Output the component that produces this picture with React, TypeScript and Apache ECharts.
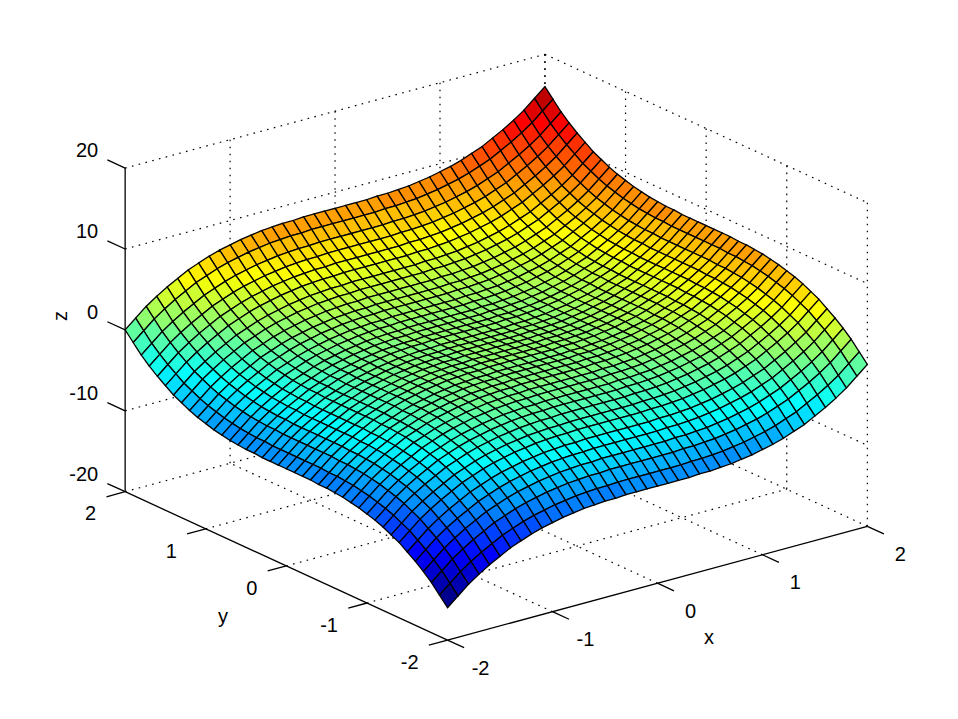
import React, { useEffect, useRef } from "react";
import * as echarts from "echarts";

const xTicks = [-2, -1, 0, 1, 2];
const yTicks = [-2, -1, 0, 1, 2];
const zTicks = [-20, -10, 0, 10, 20];
const gridX = [-2,-1.9,-1.8,-1.7,-1.6,-1.5,-1.4,-1.3,-1.2,-1.1,-1,-0.9,-0.8,-0.7,-0.6,-0.5,-0.4,-0.3,-0.2,-0.1,0,0.1,0.2,0.3,0.4,0.5,0.6,0.7,0.8,0.9,1,1.1,1.2,1.3,1.4,1.5,1.6,1.7,1.8,1.9,2];
const gridY = gridX.slice();
// z: one row per x, one column per y
const zRows = [
[-16,-14.9,-13.8,-12.9,-12.1,-11.4,-10.7,-10.2,-9.7,-9.3,-9,-8.7,-8.5,-8.3,-8.2,-8.1,-8.1,-8,-8,-8,-8,-8,-8,-8,-7.9,-7.9,-7.8,-7.7,-7.5,-7.3,-7,-6.7,-6.3,-5.8,-5.3,-4.6,-3.9,-3.1,-2.2,-1.1,0],
[-14.9,-13.8,-12.7,-11.8,-11,-10.3,-9.6,-9.1,-8.6,-8.2,-7.9,-7.6,-7.4,-7.2,-7.1,-7,-7,-6.9,-6.9,-6.9,-6.9,-6.9,-6.9,-6.9,-6.8,-6.8,-6.7,-6.6,-6.4,-6.2,-5.9,-5.6,-5.2,-4.7,-4.2,-3.5,-2.8,-2,-1.1,0,1.1],
[-13.8,-12.7,-11.6,-10.7,-9.9,-9.2,-8.5,-8,-7.5,-7.1,-6.8,-6.5,-6.3,-6.1,-6,-5.9,-5.9,-5.8,-5.8,-5.8,-5.8,-5.8,-5.8,-5.8,-5.7,-5.7,-5.6,-5.5,-5.3,-5.1,-4.8,-4.5,-4.1,-3.6,-3.1,-2.4,-1.7,-0.9,0,1.1,2.2],
[-12.9,-11.8,-10.7,-9.8,-9,-8.3,-7.6,-7.1,-6.6,-6.2,-5.9,-5.6,-5.4,-5.2,-5.1,-5,-5,-4.9,-4.9,-4.9,-4.9,-4.9,-4.9,-4.9,-4.8,-4.8,-4.7,-4.6,-4.4,-4.2,-3.9,-3.6,-3.2,-2.7,-2.2,-1.5,-0.8,0,0.9,2,3.1],
[-12.1,-11,-9.9,-9,-8.2,-7.5,-6.8,-6.3,-5.8,-5.4,-5.1,-4.8,-4.6,-4.4,-4.3,-4.2,-4.2,-4.1,-4.1,-4.1,-4.1,-4.1,-4.1,-4.1,-4,-4,-3.9,-3.8,-3.6,-3.4,-3.1,-2.8,-2.4,-1.9,-1.4,-0.7,0,0.8,1.7,2.8,3.9],
[-11.4,-10.3,-9.2,-8.3,-7.5,-6.8,-6.1,-5.6,-5.1,-4.7,-4.4,-4.1,-3.9,-3.7,-3.6,-3.5,-3.5,-3.4,-3.4,-3.4,-3.4,-3.4,-3.4,-3.4,-3.3,-3.3,-3.2,-3.1,-2.9,-2.7,-2.4,-2.1,-1.7,-1.2,-0.7,0,0.7,1.5,2.4,3.5,4.6],
[-10.7,-9.6,-8.5,-7.6,-6.8,-6.1,-5.4,-4.9,-4.4,-4,-3.7,-3.4,-3.2,-3,-2.9,-2.8,-2.8,-2.7,-2.7,-2.7,-2.7,-2.7,-2.7,-2.7,-2.6,-2.6,-2.5,-2.4,-2.2,-2,-1.7,-1.4,-1,-0.5,0,0.7,1.4,2.2,3.1,4.2,5.3],
[-10.2,-9.1,-8,-7.1,-6.3,-5.6,-4.9,-4.4,-3.9,-3.5,-3.2,-2.9,-2.7,-2.5,-2.4,-2.3,-2.3,-2.2,-2.2,-2.2,-2.2,-2.2,-2.2,-2.2,-2.1,-2.1,-2,-1.9,-1.7,-1.5,-1.2,-0.9,-0.5,0,0.5,1.2,1.9,2.7,3.6,4.7,5.8],
[-9.7,-8.6,-7.5,-6.6,-5.8,-5.1,-4.4,-3.9,-3.4,-3,-2.7,-2.4,-2.2,-2,-1.9,-1.8,-1.8,-1.7,-1.7,-1.7,-1.7,-1.7,-1.7,-1.7,-1.6,-1.6,-1.5,-1.4,-1.2,-1,-0.7,-0.4,0,0.5,1,1.7,2.4,3.2,4.1,5.2,6.3],
[-9.3,-8.2,-7.1,-6.2,-5.4,-4.7,-4,-3.5,-3,-2.6,-2.3,-2,-1.8,-1.6,-1.5,-1.4,-1.4,-1.3,-1.3,-1.3,-1.3,-1.3,-1.3,-1.3,-1.2,-1.2,-1.1,-1,-0.8,-0.6,-0.3,0,0.4,0.9,1.4,2.1,2.8,3.6,4.5,5.6,6.7],
[-9,-7.9,-6.8,-5.9,-5.1,-4.4,-3.7,-3.2,-2.7,-2.3,-2,-1.7,-1.5,-1.3,-1.2,-1.1,-1.1,-1,-1,-1,-1,-1,-1,-1,-0.9,-0.9,-0.8,-0.7,-0.5,-0.3,0,0.3,0.7,1.2,1.7,2.4,3.1,3.9,4.8,5.9,7],
[-8.7,-7.6,-6.5,-5.6,-4.8,-4.1,-3.4,-2.9,-2.4,-2,-1.7,-1.4,-1.2,-1,-0.9,-0.8,-0.8,-0.7,-0.7,-0.7,-0.7,-0.7,-0.7,-0.7,-0.6,-0.6,-0.5,-0.4,-0.2,0,0.3,0.6,1,1.5,2,2.7,3.4,4.2,5.1,6.2,7.3],
[-8.5,-7.4,-6.3,-5.4,-4.6,-3.9,-3.2,-2.7,-2.2,-1.8,-1.5,-1.2,-1,-0.8,-0.7,-0.6,-0.6,-0.5,-0.5,-0.5,-0.5,-0.5,-0.5,-0.5,-0.4,-0.4,-0.3,-0.2,0,0.2,0.5,0.8,1.2,1.7,2.2,2.9,3.6,4.4,5.3,6.4,7.5],
[-8.3,-7.2,-6.1,-5.2,-4.4,-3.7,-3,-2.5,-2,-1.6,-1.3,-1,-0.8,-0.6,-0.5,-0.4,-0.4,-0.3,-0.3,-0.3,-0.3,-0.3,-0.3,-0.3,-0.2,-0.2,-0.1,0,0.2,0.4,0.7,1,1.4,1.9,2.4,3.1,3.8,4.6,5.5,6.6,7.7],
[-8.2,-7.1,-6,-5.1,-4.3,-3.6,-2.9,-2.4,-1.9,-1.5,-1.2,-0.9,-0.7,-0.5,-0.4,-0.3,-0.3,-0.2,-0.2,-0.2,-0.2,-0.2,-0.2,-0.2,-0.1,-0.1,0,0.1,0.3,0.5,0.8,1.1,1.5,2,2.5,3.2,3.9,4.7,5.6,6.7,7.8],
[-8.1,-7,-5.9,-5,-4.2,-3.5,-2.8,-2.3,-1.8,-1.4,-1.1,-0.8,-0.6,-0.4,-0.3,-0.2,-0.2,-0.1,-0.1,-0.1,-0.1,-0.1,-0.1,-0.1,0,0,0.1,0.2,0.4,0.6,0.9,1.2,1.6,2.1,2.6,3.3,4,4.8,5.7,6.8,7.9],
[-8.1,-7,-5.9,-5,-4.2,-3.5,-2.8,-2.3,-1.8,-1.4,-1.1,-0.8,-0.6,-0.4,-0.3,-0.2,-0.2,-0.1,-0.1,-0.1,-0.1,-0.1,-0.1,-0.1,0,0,0.1,0.2,0.4,0.6,0.9,1.2,1.6,2.1,2.6,3.3,4,4.8,5.7,6.8,7.9],
[-8,-6.9,-5.8,-4.9,-4.1,-3.4,-2.7,-2.2,-1.7,-1.3,-1,-0.7,-0.5,-0.3,-0.2,-0.1,-0.1,0,0,0,0,0,0,0,0.1,0.1,0.2,0.3,0.5,0.7,1,1.3,1.7,2.2,2.7,3.4,4.1,4.9,5.8,6.9,8],
[-8,-6.9,-5.8,-4.9,-4.1,-3.4,-2.7,-2.2,-1.7,-1.3,-1,-0.7,-0.5,-0.3,-0.2,-0.1,-0.1,0,0,0,0,0,0,0,0.1,0.1,0.2,0.3,0.5,0.7,1,1.3,1.7,2.2,2.7,3.4,4.1,4.9,5.8,6.9,8],
[-8,-6.9,-5.8,-4.9,-4.1,-3.4,-2.7,-2.2,-1.7,-1.3,-1,-0.7,-0.5,-0.3,-0.2,-0.1,-0.1,0,0,0,0,0,0,0,0.1,0.1,0.2,0.3,0.5,0.7,1,1.3,1.7,2.2,2.7,3.4,4.1,4.9,5.8,6.9,8],
[-8,-6.9,-5.8,-4.9,-4.1,-3.4,-2.7,-2.2,-1.7,-1.3,-1,-0.7,-0.5,-0.3,-0.2,-0.1,-0.1,0,0,0,0,0,0,0,0.1,0.1,0.2,0.3,0.5,0.7,1,1.3,1.7,2.2,2.7,3.4,4.1,4.9,5.8,6.9,8],
[-8,-6.9,-5.8,-4.9,-4.1,-3.4,-2.7,-2.2,-1.7,-1.3,-1,-0.7,-0.5,-0.3,-0.2,-0.1,-0.1,0,0,0,0,0,0,0,0.1,0.1,0.2,0.3,0.5,0.7,1,1.3,1.7,2.2,2.7,3.4,4.1,4.9,5.8,6.9,8],
[-8,-6.9,-5.8,-4.9,-4.1,-3.4,-2.7,-2.2,-1.7,-1.3,-1,-0.7,-0.5,-0.3,-0.2,-0.1,-0.1,0,0,0,0,0,0,0,0.1,0.1,0.2,0.3,0.5,0.7,1,1.3,1.7,2.2,2.7,3.4,4.1,4.9,5.8,6.9,8],
[-8,-6.9,-5.8,-4.9,-4.1,-3.4,-2.7,-2.2,-1.7,-1.3,-1,-0.7,-0.5,-0.3,-0.2,-0.1,-0.1,0,0,0,0,0,0,0,0.1,0.1,0.2,0.3,0.5,0.7,1,1.3,1.7,2.2,2.7,3.4,4.1,4.9,5.8,6.9,8],
[-7.9,-6.8,-5.7,-4.8,-4,-3.3,-2.6,-2.1,-1.6,-1.2,-0.9,-0.6,-0.4,-0.2,-0.1,0,0,0.1,0.1,0.1,0.1,0.1,0.1,0.1,0.2,0.2,0.3,0.4,0.6,0.8,1.1,1.4,1.8,2.3,2.8,3.5,4.2,5,5.9,7,8.1],
[-7.9,-6.8,-5.7,-4.8,-4,-3.3,-2.6,-2.1,-1.6,-1.2,-0.9,-0.6,-0.4,-0.2,-0.1,0,0,0.1,0.1,0.1,0.1,0.1,0.1,0.1,0.2,0.2,0.3,0.4,0.6,0.8,1.1,1.4,1.8,2.3,2.8,3.5,4.2,5,5.9,7,8.1],
[-7.8,-6.7,-5.6,-4.7,-3.9,-3.2,-2.5,-2,-1.5,-1.1,-0.8,-0.5,-0.3,-0.1,0,0.1,0.1,0.2,0.2,0.2,0.2,0.2,0.2,0.2,0.3,0.3,0.4,0.5,0.7,0.9,1.2,1.5,1.9,2.4,2.9,3.6,4.3,5.1,6,7.1,8.2],
[-7.7,-6.6,-5.5,-4.6,-3.8,-3.1,-2.4,-1.9,-1.4,-1,-0.7,-0.4,-0.2,0,0.1,0.2,0.2,0.3,0.3,0.3,0.3,0.3,0.3,0.3,0.4,0.4,0.5,0.6,0.8,1,1.3,1.6,2,2.5,3,3.7,4.4,5.2,6.1,7.2,8.3],
[-7.5,-6.4,-5.3,-4.4,-3.6,-2.9,-2.2,-1.7,-1.2,-0.8,-0.5,-0.2,0,0.2,0.3,0.4,0.4,0.5,0.5,0.5,0.5,0.5,0.5,0.5,0.6,0.6,0.7,0.8,1,1.2,1.5,1.8,2.2,2.7,3.2,3.9,4.6,5.4,6.3,7.4,8.5],
[-7.3,-6.2,-5.1,-4.2,-3.4,-2.7,-2,-1.5,-1,-0.6,-0.3,0,0.2,0.4,0.5,0.6,0.6,0.7,0.7,0.7,0.7,0.7,0.7,0.7,0.8,0.8,0.9,1,1.2,1.4,1.7,2,2.4,2.9,3.4,4.1,4.8,5.6,6.5,7.6,8.7],
[-7,-5.9,-4.8,-3.9,-3.1,-2.4,-1.7,-1.2,-0.7,-0.3,0,0.3,0.5,0.7,0.8,0.9,0.9,1,1,1,1,1,1,1,1.1,1.1,1.2,1.3,1.5,1.7,2,2.3,2.7,3.2,3.7,4.4,5.1,5.9,6.8,7.9,9],
[-6.7,-5.6,-4.5,-3.6,-2.8,-2.1,-1.4,-0.9,-0.4,0,0.3,0.6,0.8,1,1.1,1.2,1.2,1.3,1.3,1.3,1.3,1.3,1.3,1.3,1.4,1.4,1.5,1.6,1.8,2,2.3,2.6,3,3.5,4,4.7,5.4,6.2,7.1,8.2,9.3],
[-6.3,-5.2,-4.1,-3.2,-2.4,-1.7,-1,-0.5,0,0.4,0.7,1,1.2,1.4,1.5,1.6,1.6,1.7,1.7,1.7,1.7,1.7,1.7,1.7,1.8,1.8,1.9,2,2.2,2.4,2.7,3,3.4,3.9,4.4,5.1,5.8,6.6,7.5,8.6,9.7],
[-5.8,-4.7,-3.6,-2.7,-1.9,-1.2,-0.5,0,0.5,0.9,1.2,1.5,1.7,1.9,2,2.1,2.1,2.2,2.2,2.2,2.2,2.2,2.2,2.2,2.3,2.3,2.4,2.5,2.7,2.9,3.2,3.5,3.9,4.4,4.9,5.6,6.3,7.1,8,9.1,10.2],
[-5.3,-4.2,-3.1,-2.2,-1.4,-0.7,0,0.5,1,1.4,1.7,2,2.2,2.4,2.5,2.6,2.6,2.7,2.7,2.7,2.7,2.7,2.7,2.7,2.8,2.8,2.9,3,3.2,3.4,3.7,4,4.4,4.9,5.4,6.1,6.8,7.6,8.5,9.6,10.7],
[-4.6,-3.5,-2.4,-1.5,-0.7,0,0.7,1.2,1.7,2.1,2.4,2.7,2.9,3.1,3.2,3.3,3.3,3.4,3.4,3.4,3.4,3.4,3.4,3.4,3.5,3.5,3.6,3.7,3.9,4.1,4.4,4.7,5.1,5.6,6.1,6.8,7.5,8.3,9.2,10.3,11.4],
[-3.9,-2.8,-1.7,-0.8,0,0.7,1.4,1.9,2.4,2.8,3.1,3.4,3.6,3.8,3.9,4,4,4.1,4.1,4.1,4.1,4.1,4.1,4.1,4.2,4.2,4.3,4.4,4.6,4.8,5.1,5.4,5.8,6.3,6.8,7.5,8.2,9,9.9,11,12.1],
[-3.1,-2,-0.9,0,0.8,1.5,2.2,2.7,3.2,3.6,3.9,4.2,4.4,4.6,4.7,4.8,4.8,4.9,4.9,4.9,4.9,4.9,4.9,4.9,5,5,5.1,5.2,5.4,5.6,5.9,6.2,6.6,7.1,7.6,8.3,9,9.8,10.7,11.8,12.9],
[-2.2,-1.1,0,0.9,1.7,2.4,3.1,3.6,4.1,4.5,4.8,5.1,5.3,5.5,5.6,5.7,5.7,5.8,5.8,5.8,5.8,5.8,5.8,5.8,5.9,5.9,6,6.1,6.3,6.5,6.8,7.1,7.5,8,8.5,9.2,9.9,10.7,11.6,12.7,13.8],
[-1.1,0,1.1,2,2.8,3.5,4.2,4.7,5.2,5.6,5.9,6.2,6.4,6.6,6.7,6.8,6.8,6.9,6.9,6.9,6.9,6.9,6.9,6.9,7,7,7.1,7.2,7.4,7.6,7.9,8.2,8.6,9.1,9.6,10.3,11,11.8,12.7,13.8,14.9],
[0,1.1,2.2,3.1,3.9,4.6,5.3,5.8,6.3,6.7,7,7.3,7.5,7.7,7.8,7.9,7.9,8,8,8,8,8,8,8,8.1,8.1,8.2,8.3,8.5,8.7,9,9.3,9.7,10.2,10.7,11.4,12.1,12.9,13.8,14.9,16],
];

const FONT = "Liberation Sans";
const TEXT_SIZE = 20;

// view of the box: picture position of (0,0,0) and of one data unit along each axis
const view = {
  ox: 496.25, oy: 347.2,
  xx: 104.95, xy: -28.45,
  yx: -80.6, yy: -37.1,
  zy: -8.09,
};
const project = (x: number, y: number, z: number): [number, number] => [
  view.ox + x * view.xx + y * view.yx,
  view.oy + x * view.xy + y * view.yy + z * view.zy,
];

const clamp01 = (v: number) => Math.max(0, Math.min(1, v));
const jet = (z: number, lo: number, hi: number) => {
  const n = Math.min(63, Math.floor(((z - lo) / (hi - lo)) * 64)) + 1;
  const v = n / 64;
  const ch = (a: number, b: number) => Math.round(255 * clamp01(Math.min(4 * v + a, -4 * v + b)));
  return `rgb(${ch(-1.5, 4.5)},${ch(-0.5, 3.5)},${ch(0.5, 2.5)})`;
};

type Seg = number[];
const xMin = xTicks[0], xMax = xTicks[xTicks.length - 1];
const yMin = yTicks[0], yMax = yTicks[yTicks.length - 1];
const zMin = zTicks[0], zMax = zTicks[zTicks.length - 1];

const dottedSegs: Seg[] = [];
xTicks.forEach((x) => {
  if (x !== xMin) dottedSegs.push([x, yMin, zMin, x, yMax, zMin]);
  if (x !== xMin) dottedSegs.push([x, yMax, zMin, x, yMax, zMax]);
});
yTicks.forEach((y) => {
  if (y !== yMin) dottedSegs.push([xMin, y, zMin, xMax, y, zMin]);
  dottedSegs.push([xMax, y, zMin, xMax, y, zMax]);
});
zTicks.forEach((z) => {
  if (z !== zMin) {
    dottedSegs.push([xMin, yMax, z, xMax, yMax, z]);
    dottedSegs.push([xMax, yMax, z, xMax, yMin, z]);
  }
});

const solidSegs: Seg[] = [
  [xMin, yMax, zMin, xMin, yMax, zMax],
  [xMin, yMax, zMin, xMin, yMin, zMin],
  [xMin, yMin, zMin, xMax, yMin, zMin],
];
const TICK_Z = 0.22, TICK_Y = 0.178, TICK_X = 0.205;
zTicks.forEach((z) => solidSegs.push([xMin, yMax, z, xMin, yMax + TICK_Z, z]));
yTicks.forEach((y) => solidSegs.push([xMin, y, zMin, xMin - TICK_Y, y, zMin]));
xTicks.forEach((x) => solidSegs.push([x, yMin, zMin, x, yMin - TICK_X, zMin]));

const flat = zRows.reduce((a, r) => a.concat(r), [] as number[]);
const zLo = Math.min(...flat);
const zHi = Math.max(...flat);

const cells: number[][] = [];
for (let i = 0; i < gridX.length - 1; i++) {
  for (let j = 0; j < gridY.length - 1; j++) cells.push([i, j]);
}
cells.sort((a, b) => b[0] + b[1] - (a[0] + a[1]));

const segmentSeries = (data: Seg[], style: any) => ({
  type: "custom",
  coordinateSystem: "cartesian2d",
  data,
  clip: false,
  silent: true,
  progressive: 0,
  renderItem: (_p: any, api: any) => {
    const a = api.coord(project(api.value(0), api.value(1), api.value(2)));
    const b = api.coord(project(api.value(3), api.value(4), api.value(5)));
    return {
      type: "line",
      silent: true,
      shape: { x1: a[0], y1: a[1], x2: b[0], y2: b[1] },
      style: { fill: null, stroke: "#000", ...style },
    };
  },
});

const labelSeries = (
  data: number[][],
  dx: number,
  dy: number,
  align: string,
  valueDim: number
) => ({
  type: "custom",
  coordinateSystem: "cartesian2d",
  data,
  clip: false,
  silent: true,
  progressive: 0,
  renderItem: (_p: any, api: any) => {
    const a = api.coord(project(api.value(0), api.value(1), api.value(2)));
    return {
      type: "text",
      silent: true,
      x: a[0] + dx,
      y: a[1] + dy,
      style: {
        text: String(api.value(valueDim)),
        fontFamily: FONT,
        fontSize: TEXT_SIZE,
        fill: "#000",
        align,
        verticalAlign: "middle",
      },
    };
  },
});

const axisTitle = (text: string, x: number, y: number, rotation = 0) => ({
  type: "text",
  x,
  y,
  rotation,
  silent: true,
  style: {
    text,
    fontFamily: FONT,
    fontSize: TEXT_SIZE,
    fill: "#000",
    align: "center",
    verticalAlign: "middle",
  },
});

export default function App() {
  const ref = useRef<HTMLDivElement>(null);
  useEffect(() => {
    document.body.style.margin = "0";
    const chart = echarts.init(ref.current!, undefined, { renderer: "svg" });
    chart.setOption({
      animation: false,
      backgroundColor: "#fff",
      grid: { left: 0, right: 0, top: 0, bottom: 0 },
      xAxis: { type: "value", min: 0, max: 958, show: false },
      yAxis: { type: "value", min: 0, max: 719, inverse: true, show: false },
      tooltip: { show: false },
      graphic: [
        axisTitle("x", 709, 637),
        axisTitle("y", 223, 616),
        axisTitle("z", 60, 316, Math.PI / 2),
      ],
      series: [
        segmentSeries(dottedSegs, { lineWidth: 1.2, lineDash: [1.6, 5.4] }),
        {
          type: "custom",
          coordinateSystem: "cartesian2d",
          data: cells,
          clip: false,
          silent: true,
          progressive: 0,
          renderItem: (_p: any, api: any) => {
            const i = api.value(0);
            const j = api.value(1);
            const corners = [
              [i, j],
              [i + 1, j],
              [i + 1, j + 1],
              [i, j + 1],
            ].map(([a, b]) => api.coord(project(gridX[a], gridY[b], zRows[a][b])));
            return {
              type: "polygon",
              silent: true,
              shape: { points: corners },
              style: { fill: jet(zRows[i][j], zLo, zHi), stroke: "#000", lineWidth: 1.3 },
            };
          },
        },
        segmentSeries(solidSegs, { lineWidth: 1.3 }),
        labelSeries(xTicks.map((x) => [x, yMin, zMin, x]), 33, 27.5, "center", 3),
        labelSeries(yTicks.map((y) => [xMin, y, zMin, y]), -29, 21.7, "right", 3),
        labelSeries(zTicks.map((z) => [xMin, yMax, z, z]), -27, -18, "right", 3),
      ],
    });
    return () => chart.dispose();
  }, []);
  return <div ref={ref} style={{ width: 958, height: 719 }} />;
}
